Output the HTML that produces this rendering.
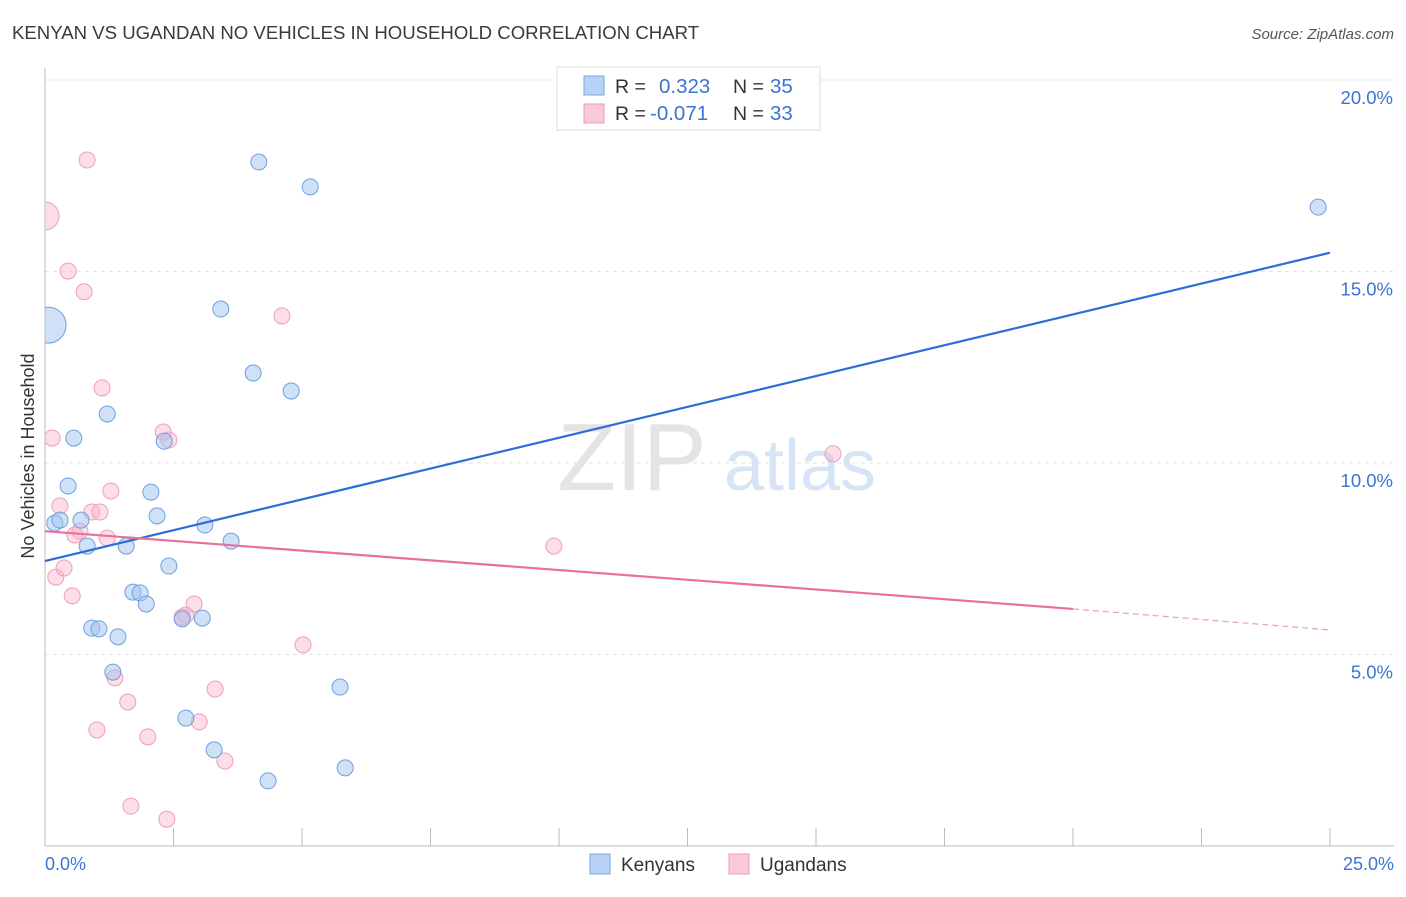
<!DOCTYPE html>
<html><head><meta charset="utf-8"><style>
body{margin:0;background:#fff;font-family:"Liberation Sans",sans-serif;}
svg text{font-family:"Liberation Sans",sans-serif;}
</style></head><body>
<svg id="chart" width="1406" height="892" xmlns="http://www.w3.org/2000/svg">
<defs><clipPath id="plotclip"><rect x="45" y="60" width="1360" height="786"/></clipPath></defs>
<text x="12" y="39" font-size="18.6" fill="#3a3a3a">KENYAN VS UGANDAN NO VEHICLES IN HOUSEHOLD CORRELATION CHART</text>
<text x="1394" y="39" font-size="15" fill="#555" text-anchor="end" font-style="italic">Source: ZipAtlas.com</text>
<g>
<text x="632" y="490" font-size="96" fill="#e4e4e4" text-anchor="middle" font-family="Liberation Serif,serif">ZIP</text>
<text x="800" y="490" font-size="72" fill="#d6e4f6" text-anchor="middle">atlas</text>
</g>
<g id="grid"></g>
<g id="axes"></g>
<g id="marks" clip-path="url(#plotclip)"></g>
<text transform="translate(34,456) rotate(-90)" font-size="18" fill="#333" text-anchor="middle">No Vehicles in Household</text>
<g>
<rect x="557" y="67" width="263" height="63" fill="#fff" stroke="#ddd"/>
<rect x="584" y="76" width="20" height="19" fill="#b8d2f6" stroke="#7aa6e4"/>
<rect x="584" y="104" width="20" height="19" fill="#fbc8d8" stroke="#ec9ab8"/>
<text x="615" y="93" font-size="19.5" fill="#333">R =</text>
<text x="659" y="93" font-size="20.5" fill="#3a74d4">0.323</text>
<text x="733" y="93" font-size="19.5" fill="#333">N =</text>
<text x="770" y="93" font-size="20.5" fill="#3a74d4">35</text>
<text x="615" y="120" font-size="19.5" fill="#333">R =</text>
<text x="650" y="120" font-size="20.5" fill="#3a74d4">-0.071</text>
<text x="733" y="120" font-size="19.5" fill="#333">N =</text>
<text x="770" y="120" font-size="20.5" fill="#3a74d4">33</text>
</g>
<g>
<rect x="590" y="854" width="20" height="20" fill="#b8d2f6" stroke="#7aa6e4"/>
<text x="621" y="871" font-size="19" fill="#333">Kenyans</text>
<rect x="729" y="854" width="20" height="20" fill="#fbc8d8" stroke="#ec9ab8"/>
<text x="760" y="871" font-size="19" fill="#333">Ugandans</text>
</g>
</svg>
<script>
const kenX=[0.19,0.29,0.45,0.56,0.70,0.82,0.91,1.05,1.21,1.32,1.42,1.58,1.71,1.85,1.97,2.06,2.18,2.32,2.41,2.67,2.74,3.06,3.11,3.29,3.42,3.62,4.05,4.16,4.34,4.79,5.16,5.74,5.84,24.77,0.06];
const kenY=[8.43,8.51,9.40,10.65,8.51,7.83,5.69,5.67,11.28,4.54,5.46,7.83,6.63,6.61,6.32,9.24,8.62,10.57,7.31,5.93,3.34,5.95,8.38,2.51,14.02,7.96,12.35,17.86,1.70,11.88,17.21,4.15,2.04,16.68,13.60];
const kenR=[8,8,8,8,8,8,8,8,8,8,8,8,8,8,8,8,8,8,8,8,8,8,8,8,8,8,8,8,8,8,8,8,8,8,18];
const ugaX=[0,0.14,0.21,0.29,0.37,0.45,0.53,0.58,0.68,0.76,0.82,0.91,1.01,1.07,1.11,1.21,1.28,1.36,1.61,1.67,2.00,2.30,2.37,2.41,2.67,2.74,2.90,3.00,3.31,3.50,4.61,5.02,9.90,15.33];
const ugaY=[16.45,10.65,7.02,8.88,7.26,15.01,6.53,8.12,8.22,14.47,17.91,8.72,3.03,8.72,11.96,8.04,9.27,4.39,3.76,1.04,2.85,10.81,0.70,10.60,5.98,6.03,6.32,3.24,4.10,2.22,13.84,5.25,7.83,10.24];
const ugaR=[14,8,8,8,8,8,8,8,8,8,8,8,8,8,8,8,8,8,8,8,8,8,8,8,8,8,8,8,8,8,8,8,8,8];
const yTicks=[5,10,15,20];
const yTickLabels=["5.0%","10.0%","15.0%","20.0%"];
const xTicks=[0,2.5,5,7.5,10,12.5,15,17.5,20,22.5,25];
const kenTrend=[[0,7.44],[25,15.49]];
const ugaTrendSolid=[[0,8.22],[20,6.19]];
const ugaTrendDash=[[20,6.19],[25,5.64]];

const X=v=>45+v/25*1285;
const Y=v=>846-v/5*191.5;
const NS="http://www.w3.org/2000/svg";
function mk(tag,attrs,parent){const e=document.createElementNS(NS,tag);for(const k in attrs)e.setAttribute(k,attrs[k]);parent.appendChild(e);return e;}
const grid=document.getElementById('grid'),axes=document.getElementById('axes'),marks=document.getElementById('marks');
yTicks.forEach((t,i)=>{
 const l=mk('line',{x1:45,x2:1394,y1:Y(t),y2:Y(t),stroke:'#e2e2e2','stroke-dasharray':'4,4'},grid);
 
 
 const tx=mk('text',{x:1393,y:Y(t)+24,'font-size':18.5,fill:'#3a74d4','text-anchor':'end'},axes);
 tx.textContent=yTickLabels[i];
 
 
});
const ax=mk('line',{x1:45,x2:1394,y1:846,y2:846,stroke:'#bbb'},axes);


const ay=mk('line',{x1:45,x2:45,y1:68,y2:846,stroke:'#bbb'},axes);


xTicks.forEach(t=>{
 const l=mk('line',{x1:X(t),x2:X(t),y1:828,y2:846,stroke:'#bbb'},axes);
 
 
});
const xl0=mk('text',{x:45,y:870,'font-size':18,fill:'#3a74d4'},axes);xl0.textContent="0.0%";


const xl1=mk('text',{x:1394,y:870,'font-size':18,fill:'#3a74d4','text-anchor':'end'},axes);xl1.textContent="25.0%";


ugaX.forEach((v,i)=>{
 const c=mk('circle',{cx:X(v),cy:Y(ugaY[i]),r:ugaR[i],fill:'rgba(248,180,204,0.45)',stroke:'#eaa0bc','stroke-width':1},marks);
 
 
});
kenX.forEach((v,i)=>{
 const c=mk('circle',{cx:X(v),cy:Y(kenY[i]),r:kenR[i],fill:'rgba(160,196,240,0.5)',stroke:'#6f9fde','stroke-width':1},marks);
 
 
});
const kt=mk('line',{x1:X(kenTrend[0][0]),y1:Y(kenTrend[0][1]),x2:X(kenTrend[1][0]),y2:Y(kenTrend[1][1]),stroke:'#2a6fd6','stroke-width':2.2},marks);


const ut=mk('line',{x1:X(ugaTrendSolid[0][0]),y1:Y(ugaTrendSolid[0][1]),x2:X(ugaTrendSolid[1][0]),y2:Y(ugaTrendSolid[1][1]),stroke:'#e8709a','stroke-width':2.2},marks);


const ud=mk('line',{x1:X(ugaTrendDash[0][0]),y1:Y(ugaTrendDash[0][1]),x2:X(ugaTrendDash[1][0]),y2:Y(ugaTrendDash[1][1]),stroke:'#e8a0b8','stroke-width':1.2,'stroke-dasharray':'6,4'},marks);


</script>
</body></html>
